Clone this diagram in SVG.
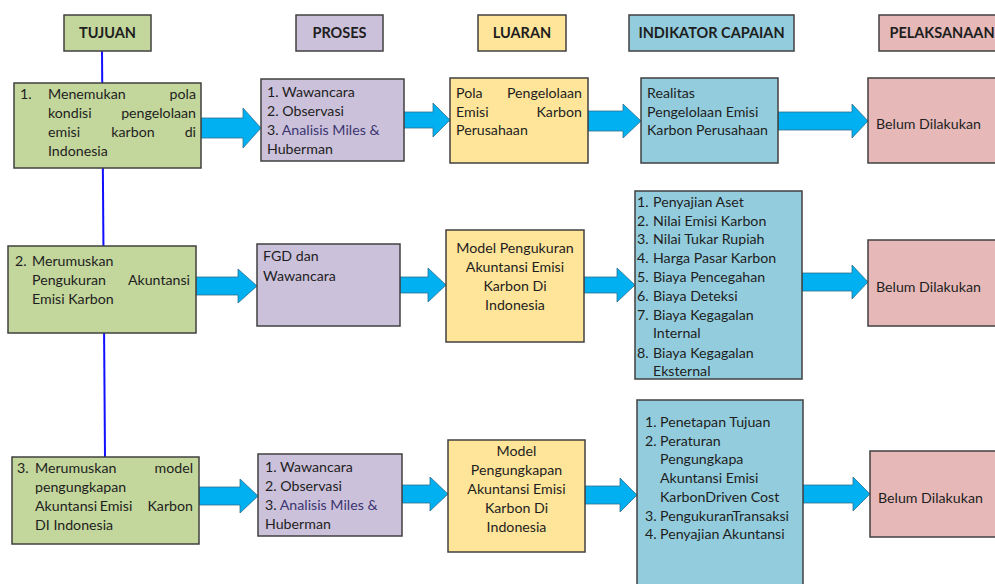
<svg xmlns="http://www.w3.org/2000/svg" width="995" height="584" viewBox="0 0 995 584">
<style>
.bx{stroke:#404040;stroke-width:1.5}
.g{fill:#c3d69b}.p{fill:#ccc1da}.y{fill:#ffe599}.b{fill:#93cddd}.k{fill:#e6b9b8}
.ar{fill:#00b0f0;stroke:#2e6f8e;stroke-width:0.8}
text{font-family:Lato,"Liberation Sans",sans-serif;font-size:14.2px;fill:#1e1e1e}
.h{font-weight:bold;font-size:14.5px;text-anchor:middle}
.e{text-anchor:end}.m{text-anchor:middle}
</style>
<rect width="995" height="584" fill="#fff"/>
<g id="connectors">
<line x1="102" y1="51" x2="105" y2="457" stroke="#1010ff" stroke-width="2"/>
<polygon class="ar" points="201,118 243,118 243,108 261,128 243,148 243,138 201,138"/>
<polygon class="ar" points="404,112 433,112 433,103 450,120 433,137 433,128 404,128"/>
<polygon class="ar" points="588,111 623,111 623,104 641,121 623,138 623,131 588,131"/>
<polygon class="ar" points="778,112 852,112 852,104 868,121 852,138 852,130 778,130"/>
<polygon class="ar" points="196,277 238,277 238,269 257,286 238,303 238,295 196,295"/>
<polygon class="ar" points="400,277 428,277 428,268 446,285 428,302 428,293 400,293"/>
<polygon class="ar" points="584,277 617,277 617,268 635,285 617,302 617,293 584,293"/>
<polygon class="ar" points="802,273 852,273 852,265 868,282 852,299 852,291 802,291"/>
<polygon class="ar" points="199,487 240,487 240,479 258,496 240,513 240,505 199,505"/>
<polygon class="ar" points="402,485 430,485 430,477 448,494 430,511 430,503 402,503"/>
<polygon class="ar" points="585,486 620,486 620,478 637,495 620,512 620,504 585,504"/>
<polygon class="ar" points="803,485 853,485 853,477 870,494 853,511 853,503 803,503"/>
</g>
<g id="h-tujuan"><rect class="bx g" x="64" y="15" width="87" height="36"/><text class="h" x="107.5" y="38">TUJUAN</text></g>
<g id="h-proses"><rect class="bx p" x="296" y="15" width="87" height="36"/><text class="h" x="339.5" y="38">PROSES</text></g>
<g id="h-luaran"><rect class="bx y" x="478" y="15" width="88" height="36"/><text class="h" x="522" y="38">LUARAN</text></g>
<g id="h-indikator"><rect class="bx b" x="629" y="15" width="165" height="36"/><text class="h" x="711.5" y="38">INDIKATOR CAPAIAN</text></g>
<g id="h-pelaksanaan"><rect class="bx k" x="879" y="15" width="130" height="36"/><text class="h" x="942" y="38">PELAKSANAAN</text></g>

<g id="t1"><rect class="bx g" x="14" y="83" width="187" height="85"/>
<text x="20" y="99">1.</text><text x="48" y="99">Menemukan</text><text class="e" x="196" y="99">pola</text>
<text x="48" y="118">kondisi</text><text class="e" x="196" y="118">pengelolaan</text>
<text x="48" y="137">emisi</text><text class="m" x="133" y="137">karbon</text><text class="e" x="196" y="137">di</text>
<text x="48" y="156">Indonesia</text></g>
<g id="p1"><rect class="bx p" x="261" y="79" width="143" height="82"/>
<text x="267" y="97">1. Wawancara</text><text x="267" y="116">2. Observasi</text><text x="267" y="135">3. <tspan fill="#3a3570">Analisis Miles &amp;</tspan></text><text x="267" y="154">Huberman</text></g>
<g id="l1"><rect class="bx y" x="450" y="78" width="138" height="85"/>
<text x="456" y="98">Pola</text><text class="e" x="582" y="98">Pengelolaan</text>
<text x="456" y="117">Emisi</text><text class="e" x="582" y="117">Karbon</text>
<text x="456" y="135">Perusahaan</text></g>
<g id="i1"><rect class="bx b" x="641" y="78" width="137" height="85"/>
<text x="647" y="98">Realitas</text><text x="647" y="117">Pengelolaan Emisi</text><text x="647" y="135">Karbon Perusahaan</text></g>
<g id="k1"><rect class="bx k" x="868" y="78" width="140" height="85"/><text x="876" y="129">Belum Dilakukan</text></g>

<g id="t2"><rect class="bx g" x="8" y="246" width="188" height="87"/>
<text x="15" y="266">2.</text><text x="32" y="266">Merumuskan</text>
<text x="32" y="285">Pengukuran</text><text class="e" x="190" y="285">Akuntansi</text>
<text x="32" y="304">Emisi Karbon</text></g>
<g id="p2"><rect class="bx p" x="257" y="244" width="143" height="82"/>
<text x="263" y="261">FGD dan</text><text x="263" y="281">Wawancara</text></g>
<g id="l2"><rect class="bx y" x="446" y="230" width="138" height="112"/>
<text class="m" x="515" y="253">Model Pengukuran</text><text class="m" x="515" y="272">Akuntansi Emisi</text><text class="m" x="515" y="291">Karbon Di</text><text class="m" x="515" y="310">Indonesia</text></g>
<g id="i2"><rect class="bx b" x="635" y="191" width="167" height="188"/>
<text x="637" y="207">1.</text><text x="653" y="207">Penyajian Aset</text>
<text x="637" y="226">2.</text><text x="653" y="226">Nilai Emisi Karbon</text>
<text x="637" y="244">3.</text><text x="653" y="244">Nilai Tukar Rupiah</text>
<text x="637" y="263">4.</text><text x="653" y="263">Harga Pasar Karbon</text>
<text x="637" y="282">5.</text><text x="653" y="282">Biaya Pencegahan</text>
<text x="637" y="301">6.</text><text x="653" y="301">Biaya Deteksi</text>
<text x="637" y="320">7.</text><text x="653" y="320">Biaya Kegagalan</text>
<text x="653" y="338">Internal</text>
<text x="637" y="358">8.</text><text x="653" y="358">Biaya Kegagalan</text>
<text x="653" y="376">Eksternal</text></g>
<g id="k2"><rect class="bx k" x="868" y="240" width="140" height="86"/><text x="876" y="292">Belum Dilakukan</text></g>

<g id="t3"><rect class="bx g" x="12" y="457" width="187" height="87"/>
<text x="17" y="473">3.</text><text x="35" y="473">Merumuskan</text><text class="e" x="193" y="473">model</text>
<text x="35" y="492">pengungkapan</text>
<text x="35" y="511">Akuntansi</text><text class="m" x="116" y="511">Emisi</text><text class="e" x="193" y="511">Karbon</text>
<text x="35" y="530">DI Indonesia</text></g>
<g id="p3"><rect class="bx p" x="258" y="454" width="144" height="82"/>
<text x="265" y="472">1. Wawancara</text><text x="265" y="491">2. Observasi</text><text x="265" y="510">3. <tspan fill="#3a3570">Analisis Miles &amp;</tspan></text><text x="265" y="529">Huberman</text></g>
<g id="l3"><rect class="bx y" x="448" y="440" width="137" height="112"/>
<text class="m" x="516.5" y="456">Model</text><text class="m" x="516.5" y="475">Pengungkapan</text><text class="m" x="516.5" y="494">Akuntansi Emisi</text><text class="m" x="516.5" y="513">Karbon Di</text><text class="m" x="516.5" y="532">Indonesia</text></g>
<g id="i3"><rect class="bx b" x="637" y="400" width="166" height="200"/>
<text x="645" y="427">1.</text><text x="660" y="427">Penetapan Tujuan</text>
<text x="645" y="446">2.</text><text x="660" y="446">Peraturan</text>
<text x="660" y="464">Pengungkapa</text>
<text x="660" y="483">Akuntansi Emisi</text>
<text x="660" y="502">KarbonDriven Cost</text>
<text x="645" y="521">3.</text><text x="660" y="521">PengukuranTransaksi</text>
<text x="645" y="539">4.</text><text x="660" y="539">Penyajian Akuntansi</text></g>
<g id="k3"><rect class="bx k" x="870" y="451" width="140" height="86"/><text x="878" y="503">Belum Dilakukan</text></g>
</svg>
